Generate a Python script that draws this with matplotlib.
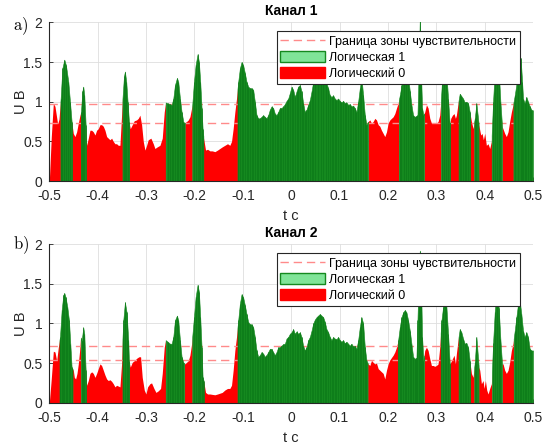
import numpy as np
import matplotlib
matplotlib.use("Agg")
import matplotlib.pyplot as plt
from matplotlib.patches import Patch
from matplotlib.lines import Line2D

# ---------------- data ----------------
t1 = [-0.5, -0.496, -0.4917, -0.4883, -0.4848, -0.4828, -0.480, -0.4766, -0.4731, -0.469, -0.4656, -0.4607, -0.4573,
      -0.4539, -0.4504, -0.447, -0.4435, -0.4401, -0.4366, -0.4346, -0.4318, -0.4298, -0.4277, -0.4249, -0.4229,
      -0.4194, -0.416, -0.4125, -0.4091, -0.4056, -0.4022, -0.3988, -0.3953, -0.3919, -0.3884, -0.385, -0.3815,
      -0.3781, -0.3747, -0.3712, -0.3678, -0.3643, -0.3609, -0.3574, -0.354, -0.3506, -0.3492, -0.3457, -0.3437,
      -0.3409, -0.3382, -0.3354, -0.3326, -0.3285, -0.3244, -0.3196, -0.3161, -0.3127, -0.3092, -0.3058, -0.3023,
      -0.2989, -0.2955, -0.29, -0.2851, -0.2817, -0.2769, -0.2713, -0.2665, -0.2624, -0.2595, -0.2554, -0.2506,
      -0.2471, -0.2437, -0.2403, -0.2361, -0.2334, -0.2299, -0.2265, -0.223, -0.221, -0.2162, -0.2127, -0.2093,
      -0.2058, -0.2045, -0.201, -0.1976, -0.1935, -0.1907, -0.188, -0.1852, -0.1831, -0.1811, -0.177, -0.1728,
      -0.168, -0.1632, -0.1577, -0.1522, -0.1474, -0.1426, -0.1371, -0.1316, -0.1268, -0.1233, -0.1199, -0.1164,
      -0.113, -0.1095, -0.1061, -0.1026, -0.0992, -0.0957, -0.0923, -0.0888, -0.0854, -0.082, -0.0785, -0.0751,
      -0.0716, -0.0682, -0.0647, -0.0613, -0.0578, -0.0544, -0.051, -0.0475, -0.0441, -0.0406, -0.0372, -0.0337,
      -0.0303, -0.0268, -0.0234, -0.02, -0.0165, -0.013, -0.0096, -0.0061, -0.0027, 0.0007, 0.0042, 0.0076, 0.0111,
      0.0145, 0.018, 0.0214, 0.0248, 0.0283, 0.0317, 0.0352, 0.0386, 0.0421, 0.0455, 0.0503, 0.0558, 0.0613, 0.0668,
      0.073, 0.0765, 0.0799, 0.0834, 0.0868, 0.0902, 0.0937, 0.0971, 0.1006, 0.104, 0.1075, 0.1109, 0.1144, 0.1178,
      0.1213, 0.1247, 0.1281, 0.1316, 0.135, 0.1385, 0.1419, 0.1454, 0.1488, 0.1523, 0.1557, 0.1592, 0.1626, 0.1661,
      0.1695, 0.173, 0.1764, 0.1799, 0.1833, 0.1867, 0.1902, 0.1936, 0.1971, 0.2005, 0.204, 0.2074, 0.2109, 0.2143,
      0.2178, 0.2212, 0.2246, 0.2281, 0.233, 0.238, 0.2418, 0.2453, 0.2487, 0.2521, 0.2556, 0.259, 0.2611, 0.2639,
      0.2659, 0.268, 0.2707, 0.2735, 0.2762, 0.2797, 0.2831, 0.2866, 0.29, 0.2948, 0.3003, 0.3038, 0.3072, 0.3093,
      0.3127, 0.3169, 0.321, 0.3244, 0.3279, 0.3299, 0.3334, 0.3368, 0.3396, 0.3416, 0.3451, 0.3485, 0.352, 0.3554,
      0.3589, 0.3623, 0.3658, 0.3692, 0.3727, 0.3761, 0.3796, 0.383, 0.3878, 0.3919, 0.3947, 0.3974, 0.4002, 0.4036,
      0.4071, 0.4105, 0.414, 0.4174, 0.4209, 0.425, 0.4291, 0.4326, 0.436, 0.4415, 0.4449, 0.4484, 0.4518, 0.4553,
      0.4587, 0.4622, 0.4691, 0.4745, 0.4775, 0.4794, 0.4828, 0.4863, 0.4897, 0.4932, 0.4966, 0.5]
u1 = [0.0, 0.55, 0.98, 0.94, 0.80, 0.72, 0.78, 1.04, 1.42, 1.53, 1.46, 1.25, 1.00,
      0.75, 0.60, 0.56, 0.62, 0.73, 0.83, 0.87, 1.13, 1.19, 1.08, 0.71, 0.45,
      0.54, 0.64, 0.64, 0.62, 0.58, 0.64, 0.66, 0.71, 0.71, 0.69, 0.64, 0.56,
      0.54, 0.52, 0.54, 0.50, 0.47, 0.47, 0.45, 0.45, 0.83, 1.00, 1.32, 1.38,
      1.25, 1.00, 0.75, 0.66, 0.71, 0.76, 0.77, 0.79, 0.83, 0.71, 0.50, 0.39,
      0.45, 0.52, 0.54, 0.47, 0.41, 0.43, 0.45, 0.54, 0.87, 0.99, 0.98, 0.97,
      0.96, 1.04, 1.21, 1.30, 1.25, 1.04, 0.87, 0.75, 0.73, 0.75, 0.77, 0.81,
      0.92, 0.96, 1.25, 1.46, 1.60, 1.50, 1.25, 0.92, 0.66, 0.54, 0.39, 0.40,
      0.38, 0.38, 0.37, 0.39, 0.41, 0.43, 0.45, 0.47, 0.45, 0.50, 0.66, 0.87,
      1.04, 1.25, 1.42, 1.50, 1.46, 1.36, 1.25, 1.19, 1.17, 1.17, 1.15, 1.00,
      0.83, 0.79, 0.79, 0.81, 0.83, 0.81, 0.79, 0.83, 0.90, 0.94, 0.92, 0.85,
      0.83, 0.87, 0.92, 0.92, 0.94, 0.97, 1.01, 1.04, 1.11, 1.19, 1.15, 1.06, 1.13,
      1.19, 1.21, 1.13, 0.98, 0.87, 0.90, 0.96, 1.02, 1.13, 1.25, 1.28, 1.31, 1.32, 1.29,
      1.23, 1.17, 1.08, 1.06, 1.08, 1.04, 1.02, 1.04, 1.01, 0.99, 1.01, 0.98, 0.99, 0.96,
      0.97, 0.94, 0.95, 0.92, 0.87, 1.00, 1.17, 1.30, 1.08, 0.83, 0.71, 0.75, 0.77, 0.73,
      0.75, 0.79, 0.77, 0.71, 0.69, 0.64, 0.60, 0.56, 0.62, 0.73, 0.77, 0.79, 0.81, 0.85,
      0.92, 0.98, 1.08, 1.21, 1.33, 1.38, 1.32, 1.13, 0.96, 0.83, 0.81, 0.82, 0.83, 1.45,
      2.05, 1.45, 0.92, 0.83, 0.87, 0.96, 0.92, 0.79, 0.73, 0.73, 0.73, 0.75, 0.83, 1.00,
      1.35, 1.45, 1.35, 1.04, 0.71, 0.79, 0.83, 0.85, 0.79, 0.83, 0.98, 1.10, 1.07, 1.04,
      0.99, 1.00, 0.98, 0.87, 0.75, 0.66, 0.79, 0.98, 0.71, 0.58, 0.60, 0.52, 0.60, 0.45,
      0.47, 0.41, 0.50, 1.00, 1.40, 1.65, 1.40, 1.00, 0.69, 0.60, 0.56, 0.62, 0.75, 0.87,
      0.96, 1.08, 1.36, 1.55, 1.25, 1.04, 0.98, 1.06, 1.00, 0.94, 0.90, 0.89]

t2 = [-0.5, -0.496, -0.4917, -0.4883, -0.4848, -0.4814, -0.478, -0.4745, -0.4711, -0.469, -0.4663, -0.4628, -0.4594,
      -0.4566, -0.4539, -0.4504, -0.4483, -0.4456, -0.4428, -0.4401, -0.4373, -0.4353, -0.4332, -0.4298, -0.4277,
      -0.4249, -0.4229, -0.4194, -0.416, -0.4125, -0.4091, -0.4056, -0.4022, -0.3988, -0.3953, -0.3919, -0.3884,
      -0.385, -0.3815, -0.3781, -0.3747, -0.3712, -0.3678, -0.3643, -0.3609, -0.3574, -0.354, -0.3506, -0.3492,
      -0.3471, -0.3437, -0.3402, -0.3368, -0.3354, -0.3326, -0.3285, -0.3244, -0.3196, -0.3148, -0.3113, -0.3079,
      -0.3037, -0.3003, -0.2968, -0.292, -0.2886, -0.2837, -0.2796, -0.2748, -0.27, -0.2665, -0.2624, -0.2595,
      -0.2554, -0.2506, -0.2471, -0.2437, -0.2403, -0.2361, -0.2334, -0.2299, -0.2265, -0.223, -0.2196, -0.2162,
      -0.2127, -0.2093, -0.2058, -0.201, -0.1976, -0.1935, -0.1907, -0.188, -0.1852, -0.1831, -0.1811, -0.177,
      -0.1728, -0.168, -0.1632, -0.1577, -0.1522, -0.1474, -0.1426, -0.1371, -0.1316, -0.1268, -0.1233, -0.1199,
      -0.1164, -0.113, -0.1095, -0.1061, -0.1026, -0.0992, -0.0957, -0.0923, -0.0888, -0.0854, -0.082, -0.0785,
      -0.0751, -0.0716, -0.0682, -0.0647, -0.0613, -0.0578, -0.0544, -0.051, -0.0475, -0.0441, -0.0406, -0.0372,
      -0.0337, -0.0303, -0.0268, -0.0234, -0.02, -0.0165, -0.013, -0.0096, -0.0061, -0.0027, 0.0007, 0.0042, 0.0076,
      0.0111, 0.0145, 0.018, 0.0214, 0.0248, 0.0283, 0.0317, 0.0352, 0.0386, 0.0421, 0.0455, 0.049, 0.0524, 0.0558,
      0.0593, 0.0627, 0.0662, 0.0696, 0.073, 0.0765, 0.0799, 0.0834, 0.0868, 0.0902, 0.0937, 0.0971, 0.1006, 0.104,
      0.1075, 0.1109, 0.1144, 0.1178, 0.1213, 0.1247, 0.1281, 0.1316, 0.135, 0.1385, 0.1419, 0.1454, 0.1488, 0.1523,
      0.1557, 0.1592, 0.1626, 0.1661, 0.1695, 0.173, 0.1764, 0.1799, 0.1833, 0.1867, 0.1902, 0.1936, 0.1971, 0.2005,
      0.204, 0.2074, 0.2109, 0.2143, 0.2178, 0.2212, 0.2246, 0.2281, 0.2315, 0.235, 0.2384, 0.2418, 0.2453, 0.2487,
      0.2521, 0.2556, 0.259, 0.2611, 0.2639, 0.2659, 0.268, 0.2707, 0.2735, 0.2762, 0.2797, 0.2831, 0.2866, 0.29,
      0.2934, 0.2969, 0.3003, 0.3038, 0.3072, 0.3107, 0.3141, 0.3176, 0.321, 0.3244, 0.3279, 0.3299, 0.3334, 0.3368,
      0.3396, 0.3416, 0.3451, 0.3485, 0.352, 0.3554, 0.3589, 0.3623, 0.3658, 0.3692, 0.3727, 0.3761, 0.3796, 0.383,
      0.3878, 0.3899, 0.3933, 0.3968, 0.3988, 0.4016, 0.4043, 0.4071, 0.4105, 0.414, 0.4174, 0.4209, 0.425, 0.4291,
      0.4326, 0.436, 0.4381, 0.4415, 0.4449, 0.4484, 0.4518, 0.4553, 0.4587, 0.4622, 0.4656, 0.4691, 0.4725, 0.4759,
      0.4794, 0.4828, 0.4863, 0.4897, 0.4932, 0.4966, 0.5]
u2 = [0.0, 0.30, 0.65, 0.64, 0.53, 0.70, 0.83, 1.17, 1.36, 1.385, 1.33, 1.21, 1.04,
      0.745, 0.45, 0.41, 0.32, 0.30, 0.37, 0.49, 0.66, 0.83, 0.78, 0.95, 0.87,
      0.41, 0.22, 0.28, 0.37, 0.39, 0.37, 0.32, 0.37, 0.43, 0.49, 0.47, 0.41,
      0.35, 0.30, 0.28, 0.29, 0.27, 0.24, 0.20, 0.22, 0.21, 0.20, 0.49, 0.75,
      1.04, 1.27, 1.14, 0.79, 0.53, 0.45, 0.51, 0.53, 0.56, 0.58, 0.58, 0.32,
      0.16, 0.11, 0.20, 0.24, 0.25, 0.18, 0.13, 0.15, 0.18, 0.37, 0.70, 0.79,
      0.77, 0.745, 0.745, 0.83, 1.04, 1.10, 1.04, 0.79, 0.58, 0.51, 0.49, 0.51,
      0.53, 0.60, 0.745, 1.08, 1.33, 1.49, 1.40, 1.08, 0.70, 0.32, 0.28, 0.13,
      0.11, 0.11, 0.105, 0.10, 0.11, 0.12, 0.13, 0.16, 0.18, 0.18, 0.22, 0.41,
      0.66, 0.83, 1.04, 1.25, 1.37, 1.33, 1.23, 1.12, 1.02, 0.99, 0.99, 0.955,
      0.83, 0.66, 0.58, 0.60, 0.64, 0.62, 0.58, 0.60, 0.64, 0.68, 0.68, 0.64,
      0.60, 0.64, 0.70, 0.70, 0.72, 0.74, 0.745, 0.81, 0.83, 0.87, 0.89, 0.93, 0.87,
      0.90, 0.87, 0.89, 0.83, 0.72, 0.66, 0.70, 0.79, 0.83, 0.91, 1.00, 1.05, 1.08, 1.10,
      1.12, 1.10, 1.08, 1.02, 0.93, 0.89, 0.83, 0.79, 0.83, 0.81, 0.80, 0.83, 0.79, 0.77,
      0.79, 0.75, 0.77, 0.745, 0.72, 0.745, 0.71, 0.72, 0.68, 0.79, 0.955, 1.08, 1.00, 0.70,
      0.535, 0.49, 0.47, 0.535, 0.51, 0.49, 0.50, 0.43, 0.41, 0.39, 0.37, 0.30, 0.41, 0.49,
      0.54, 0.57, 0.60, 0.64, 0.70, 0.79, 0.955, 1.08, 1.14, 1.17, 1.14, 1.04, 0.91, 0.745,
      0.58, 0.555, 0.57, 1.04, 1.67, 1.92, 1.67, 0.83, 0.53, 0.66, 0.70, 0.66, 0.555, 0.47,
      0.47, 0.46, 0.47, 0.49, 0.70, 1.04, 1.21, 1.27, 1.21, 0.87, 0.49, 0.51, 0.555, 0.60,
      0.49, 0.62, 0.79, 0.93, 0.89, 0.81, 0.745, 0.755, 0.70, 0.53, 0.37, 0.32, 0.51, 0.83,
      0.45, 0.41, 0.24, 0.28, 0.18, 0.28, 0.16, 0.11, 0.18, 0.24, 0.75, 1.15, 1.42, 1.20,
      0.80, 0.49, 0.49, 0.41, 0.37, 0.41, 0.51, 0.66, 0.745, 0.91, 1.08, 1.25, 1.29, 1.12,
      0.91, 0.83, 0.89, 0.83, 0.68, 0.66, 0.66]

# intervals of "logical 1" (start, end), seconds
ones1 = [(-0.477, -0.4535), (-0.435, -0.4245), (-0.3488, -0.335), (-0.2595, -0.2200), (-0.2045, -0.1815),
         (-0.111, 0.159), (0.2225, 0.2749), (0.3095, 0.3285), (0.346, 0.370), (0.3785, 0.3875),
         (0.4145, 0.436), (0.4595, 0.5)]
ones2 = [(-0.479, -0.452), (-0.435, -0.4245), (-0.3488, -0.335), (-0.2595, -0.221), (-0.2045, -0.181),
         (-0.111, 0.158), (0.221, 0.2749), (0.309, 0.328), (0.346, 0.370), (0.3785, 0.3875),
         (0.415, 0.436), (0.460, 0.5)]

thr1 = [0.97, 0.725]
thr2 = [0.72, 0.535]

titles = ["Канал 1", "Канал 2"]
panel_tags = ["a)", "b)"]
xticks = [-0.5, -0.4, -0.3, -0.2, -0.1, 0, 0.1, 0.2, 0.3, 0.4, 0.5]
xticklabels = ["-0.5", "-0.4", "-0.3", "-0.2", "-0.1", "0", "0.1", "0.2", "0.3", "0.4", "0.5"]
yticks = [0, 0.5, 1, 1.5, 2]
yticklabels = ["0", "0.5", "1", "1.5", "2"]
legend_labels = ["Граница зоны чувствительности", "Логическая 1", "Логический 0"]

# ---------------- drawing ----------------
plt.rcParams['font.family'] = ['Liberation Sans', 'DejaVu Sans']
plt.rcParams['mathtext.fontset'] = 'cm'

GREEN = '#15891f'
STRIPE = '#0c7a18'
RED = '#ff0000'
DASH = '#ff8a8a'
TXT = '#262626'


def piece(t, u, a, b):
    t = np.asarray(t)
    u = np.asarray(u)
    m = (t > a) & (t < b)
    ts = np.concatenate([[a], t[m], [b]])
    us = np.concatenate([[np.interp(a, t, u)], u[m], [np.interp(b, t, u)]])
    return ts, us


def complement(ones, lo=-0.5, hi=0.5):
    out = []
    cur = lo
    for a, b in ones:
        if a > cur:
            out.append((cur, a))
        cur = b
    if cur < hi:
        out.append((cur, hi))
    return out


fig = plt.figure(figsize=(5.42, 4.44), dpi=100)
positions = [[0.091, 0.5923, 0.8924, 0.3574], [0.091, 0.093, 0.8924, 0.3568]]
tag_y = [0.941, 0.447]

for k, (t, u, ones, thr) in enumerate([(t1, u1, ones1, thr1), (t2, u2, ones2, thr2)]):
    ax = fig.add_axes(positions[k])
    for a, b in complement(ones):
        ts, us = piece(t, u, a, b)
        ax.fill_between(ts, 0, us, color=RED, linewidth=0, zorder=2)
    for th in thr:
        ax.axhline(th, color=DASH, linestyle=(0, (6, 3.5)), linewidth=1.0, zorder=3)
    for a, b in ones:
        ts, us = piece(t, u, a, b)
        ax.fill_between(ts, 0, us, color=GREEN, linewidth=0.4, edgecolor=GREEN, zorder=4)
        ax.vlines(ts[1:-1], 0, us[1:-1], color=STRIPE, linewidth=0.5, zorder=5)

    ax.set_xlim(-0.5, 0.5)
    ax.set_ylim(0, 2)
    ax.set_xticks(xticks)
    ax.set_xticklabels(xticklabels)
    ax.set_yticks(yticks)
    ax.set_yticklabels(yticklabels)
    ax.grid(True, color='#dedede', linewidth=0.6, zorder=0)
    ax.set_axisbelow(True)
    for s in ['top', 'right']:
        ax.spines[s].set_visible(False)
    for s in ['left', 'bottom']:
        ax.spines[s].set_color(TXT)
        ax.spines[s].set_linewidth(0.8)
        ax.spines[s].set_zorder(6)
    ax.tick_params(direction='in', length=3, width=0.6, colors=TXT, labelsize=10)
    ax.tick_params(axis='x', pad=6)
    ax.tick_params(axis='y', pad=5)
    ax.set_xlabel("t с", fontsize=10.5, color=TXT, labelpad=4)
    ax.set_ylabel("U В", fontsize=10.5, color=TXT)
    ax.yaxis.set_label_coords(-0.045, 0.5)
    ax.set_title(titles[k], fontsize=10, fontweight='bold', pad=5)

    handles = [Line2D([0], [0], color=DASH, linestyle=(0, (6, 3.5)), linewidth=1.0),
               Patch(facecolor='#80e498', edgecolor=GREEN, linewidth=1.0),
               Patch(facecolor=RED, edgecolor=RED, linewidth=1.0)]
    leg = ax.legend(handles, legend_labels, loc='upper right', bbox_to_anchor=(0.973, 0.943),
                    fontsize=9, frameon=True, fancybox=False, framealpha=1, edgecolor=TXT,
                    handlelength=3.6, handleheight=1.0, handletextpad=0.3, borderpad=0.3,
                    labelspacing=0.25, borderaxespad=0)
    leg.get_frame().set_linewidth(0.8)
    leg.set_zorder(10)

    fig.text(0.024, tag_y[k], r'$\mathrm{' + panel_tags[k] + '}$', fontsize=12, va='center', ha='left')

fig.savefig("out.png", dpi=100)
